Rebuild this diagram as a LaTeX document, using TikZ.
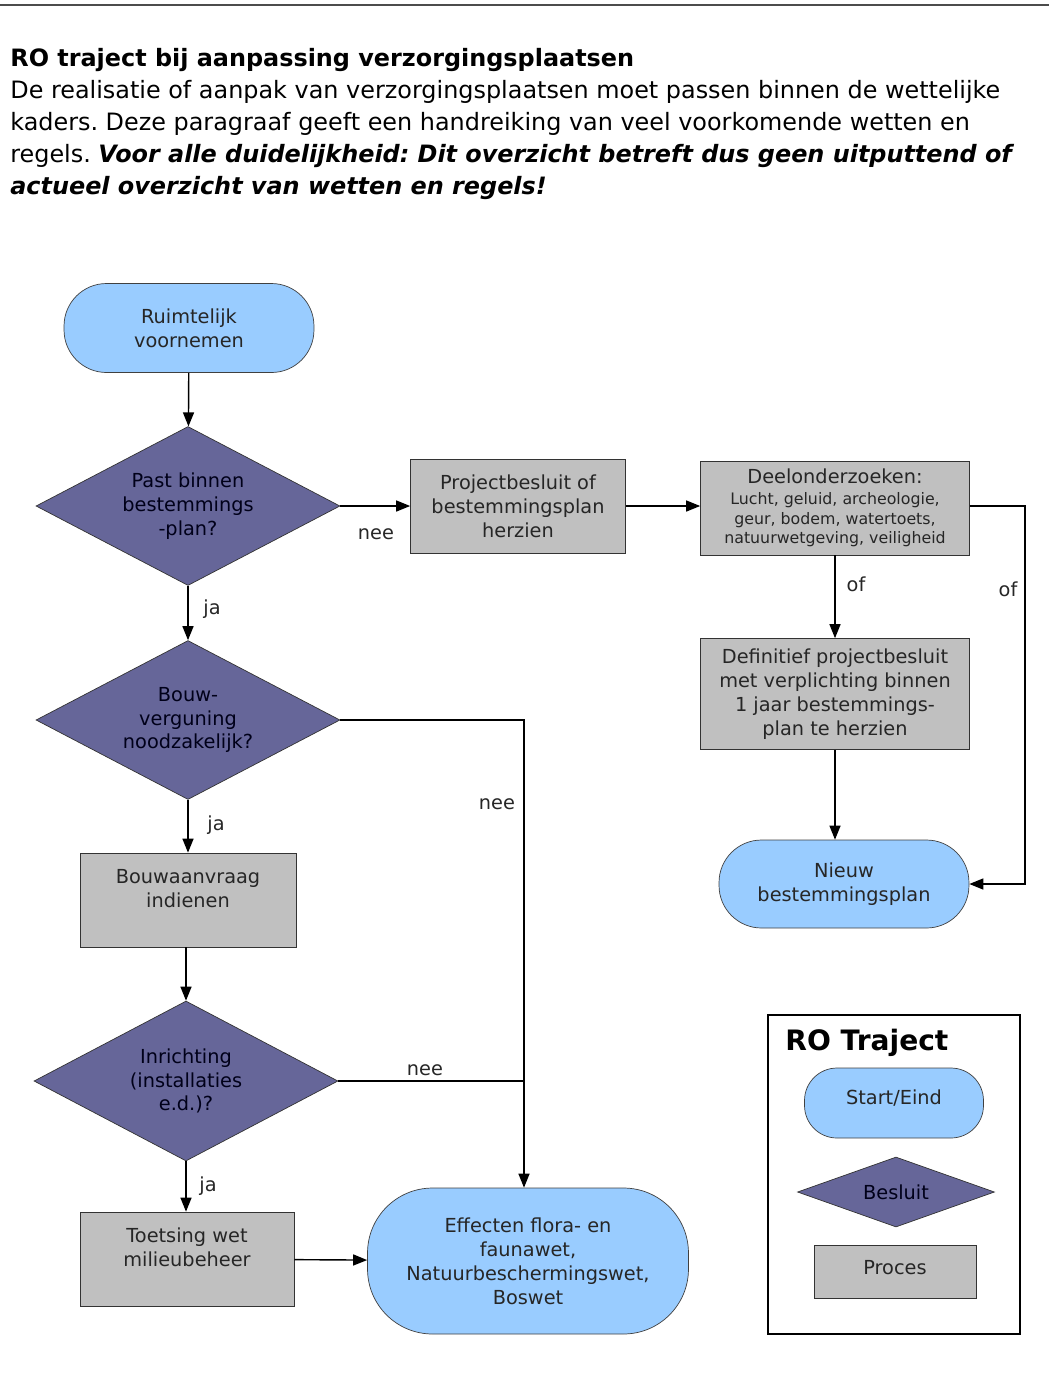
\documentclass[tikz,border=0pt]{standalone}
\usepackage{fontspec}
\setmainfont{DejaVu Sans}
\usetikzlibrary{shapes.geometric,arrows.meta}
\frenchspacing

\definecolor{startblue}{HTML}{99CCFF}
\definecolor{besluitpurple}{HTML}{666699}
\definecolor{procesgray}{HTML}{C0C0C0}

\begin{document}
\begin{tikzpicture}[x=0.02cm, y=-0.02cm,
    every node/.style={font=\fontsize{11}{13.6}\selectfont, align=center, text=black!85},
    startnode/.style={draw=black!75, fill=startblue, rounded corners=0.85cm},
    besluit/.style={diamond, draw=black!80, fill=besluitpurple, aspect=1.9, inner sep=1pt, text=black!90!blue},
    proces/.style={rectangle, draw=black!80, fill=procesgray, inner sep=2pt},
    lbl/.style={inner sep=0pt},
    headline/.style={anchor=base west, inner sep=0pt, text=black, font=\fontsize{13.6}{16}\selectfont},
    arr/.style={-{Triangle[length=0.28cm,width=0.22cm]}, line width=0.8pt},
    ln/.style={line width=0.8pt}]
            \useasboundingbox (0,0) rectangle (1049,1374);

            % Header
            \draw[line width=1.2pt, black!70] (0,5) -- (1049,5);
            \node[headline, font=\fontsize{13.6}{16}\selectfont\bfseries] (title) at (10,66) {RO traject bij aanpassing verzorgingsplaatsen};
            \node[headline] (intro1) at (10,98) {De realisatie of aanpak van verzorgingsplaatsen moet passen binnen de wettelijke};
            \node[headline] (intro2) at (10,130) {kaders. Deze paragraaf geeft een handreiking van veel voorkomende wetten en};
            \node[headline] (intro3) at (10,162) {regels. \textbf{\itshape Voor alle duidelijkheid: Dit overzicht betreft dus geen uitputtend of}};
            \node[headline, font=\fontsize{13.6}{16}\selectfont\bfseries\itshape] (intro4) at (10,194) {actueel overzicht van wetten en regels!};

            % Define nodes
            \node[startnode, minimum width=5cm, minimum height=1.78cm] (start) at (189,328) {Ruimtelijk\\voornemen};
            \node[besluit, minimum width=6.08cm, minimum height=3.18cm] (past) at (188,506) {Past binnen\\bestemmings\\-plan?};
            \node[proces, minimum width=4.3cm, minimum height=1.88cm] (herzien) at (518,506) {Projectbesluit of\\bestemmingsplan\\herzien};
            \node[proces, minimum width=5.38cm, minimum height=1.88cm, font=\fontsize{9}{11}\selectfont] (deel) at (835,508) {{\fontsize{11}{13.6}\selectfont Deelonderzoeken:}\\[1pt]Lucht, geluid, archeologie,\\geur, bodem, watertoets,\\natuurwetgeving, veiligheid};
            \node[proces, minimum width=5.38cm, minimum height=2.22cm] (definitief) at (835,694) {Definitief projectbesluit\\met verplichting binnen\\1 jaar bestemmings-\\plan te herzien};
            \node[startnode, minimum width=5cm, minimum height=1.76cm] (nieuw) at (844,884) {Nieuw\\bestemmingsplan};
            \node[besluit, minimum width=6.08cm, minimum height=3.18cm] (bouw) at (188,720) {Bouw-\\verguning\\noodzakelijk?};
            \node[proces, minimum width=4.32cm, minimum height=1.88cm] (aanvraag) at (188,900) {Bouwaanvraag\\indienen\\~};
            \node[besluit, minimum width=6.08cm, minimum height=3.2cm] (inrichting) at (186,1081) {Inrichting\\(installaties\\e.d.)?};
            \node[proces, minimum width=4.28cm, minimum height=1.88cm] (toetsing) at (187,1259) {Toetsing wet\\milieubeheer\\~};
            \node[startnode, rounded corners=1.3cm, minimum width=6.42cm, minimum height=2.92cm] (effecten) at (528,1261) {Effecten flora- en\\faunawet,\\Natuurbeschermingswet,\\Boswet};

            % Labels
            \node[lbl] (nee1) at (376,534) {nee};
            \node[lbl] (ja1) at (212,609) {ja};
            \node[lbl] (of1) at (856,584) {of};
            \node[lbl] (of2) at (1008,589) {of};
            \node[lbl] (nee2) at (497,804) {nee};
            \node[lbl] (ja2) at (216,825) {ja};
            \node[lbl] (nee3) at (425,1070) {nee};
            \node[lbl] (ja3) at (208,1186) {ja};

            % Draw edges
            \coordinate (ofhoek) at (1025,506);
            \coordinate (neehoek) at (524,720);
            \draw[arr] (start) -- (past);
            \draw[arr] (past) -- (herzien);
            \draw[arr] (herzien) -- (deel.west |- herzien);
            \draw[arr] (deel.south) -- (definitief.north);
            \draw[arr] (definitief.south) -- (definitief.south |- nieuw.north);
            \draw[arr] (deel.east |- ofhoek) -- (ofhoek) |- (nieuw.east);
            \draw[arr] (past) -- (bouw);
            \draw[arr] (bouw.east) -- (neehoek) -- (neehoek |- effecten.north);
            \draw[arr] (bouw) -- (aanvraag);
            \draw[arr] (aanvraag.south -| inrichting.north) -- (inrichting.north);
            \draw[ln] (inrichting.east) -- (inrichting.east -| neehoek);
            \draw[arr] (inrichting) -- (toetsing.north -| inrichting.south);
            \draw[arr] (toetsing) -- (effecten);

            % Legend
            \draw[line width=0.6pt] (768,1015) rectangle (1020,1334);
            \node[anchor=base west, inner sep=0pt, text=black, font=\fontsize{16}{18}\selectfont\bfseries] (legtitel) at (785,1050) {RO Traject};
            \node[startnode, rounded corners=0.65cm, minimum width=3.58cm, minimum height=1.4cm] (legstart) at (894,1103) {Start/Eind\\[-6.8pt]~};
            \node[besluit, minimum width=3.94cm, minimum height=1.4cm, aspect=2.8] (legbesluit) at (896,1192) {Besluit};
            \node[proces, minimum width=3.24cm, minimum height=1.06cm] (legproces) at (895,1272) {Proces\\[-8pt]~};
        \end{tikzpicture}
\end{document}
